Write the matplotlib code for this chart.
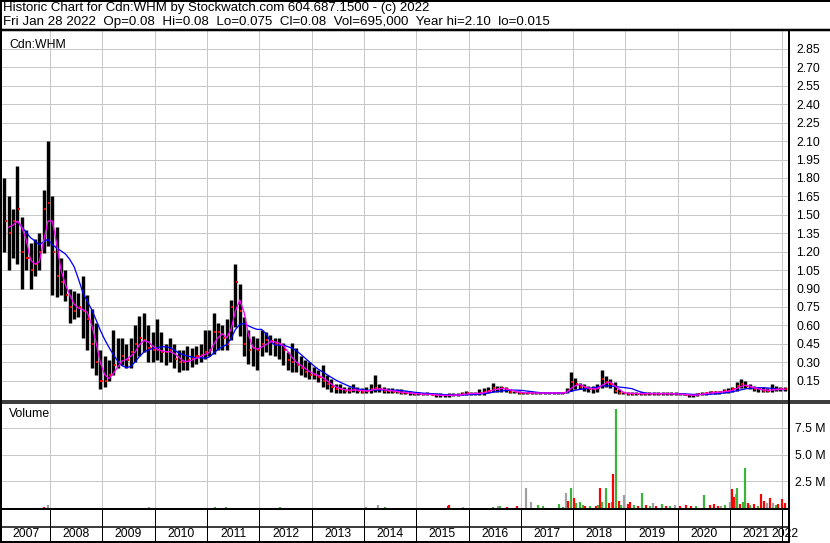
import numpy as np
import pandas as pd
import matplotlib
matplotlib.use("Agg")
import matplotlib.pyplot as plt
from matplotlib.lines import Line2D

plt.rcParams['font.family'] = ['Liberation Sans', 'DejaVu Sans']

W, H, DPI = 830, 543, 100

# ---------------- data (monthly bars, Feb 2007 .. Jan 2022) ----------------
first_month = 2007 + 1 / 12.0   # Feb 2007

month_high = [
    1.80, 1.65, 1.55, 1.90, 1.48, 1.38, 1.27, 1.30, 1.35, 1.70, 2.10,
    1.65, 1.40, 1.15, 1.05, 0.90, 0.88, 0.86, 1.00, 0.85, 0.73, 0.62, 0.40,
    0.35, 0.32, 0.56, 0.50, 0.50, 0.45, 0.50, 0.60, 0.68, 0.70, 0.60, 0.55,
    0.65, 0.55, 0.45, 0.50, 0.45, 0.40, 0.40, 0.43, 0.42, 0.43, 0.45, 0.56,
    0.56, 0.70, 0.62, 0.60, 0.65, 0.81, 1.10, 0.94, 0.67, 0.56, 0.51, 0.50,
    0.56, 0.55, 0.52, 0.50, 0.50, 0.46, 0.38, 0.46, 0.42, 0.35, 0.32, 0.30,
    0.26, 0.24, 0.28, 0.20, 0.16, 0.12, 0.12, 0.10, 0.10, 0.12, 0.10, 0.09,
    0.10, 0.12, 0.20, 0.12, 0.10, 0.09, 0.09, 0.08, 0.08, 0.07, 0.07, 0.06,
    0.06, 0.05, 0.06, 0.05, 0.05, 0.05, 0.045, 0.05, 0.05, 0.05, 0.06, 0.07,
    0.06, 0.06, 0.08, 0.09, 0.10, 0.13, 0.11, 0.11, 0.10, 0.08, 0.07, 0.07,
    0.06, 0.06, 0.06, 0.06, 0.06, 0.06, 0.06, 0.06, 0.06, 0.06, 0.09, 0.22,
    0.17, 0.13, 0.12, 0.11, 0.11, 0.12, 0.24, 0.19, 0.16, 0.14, 0.08, 0.06,
    0.06, 0.06, 0.06, 0.06, 0.06, 0.06, 0.06, 0.06, 0.06, 0.06, 0.06, 0.055,
    0.05, 0.05, 0.04, 0.04, 0.05, 0.06, 0.06, 0.07, 0.07, 0.07, 0.08, 0.09,
    0.10, 0.14, 0.16, 0.15, 0.12, 0.11, 0.10, 0.10, 0.09, 0.12, 0.11, 0.10,
    0.095,
]
month_low = [
    1.20, 1.05, 1.15, 1.10, 0.90, 1.05, 0.90, 1.00, 1.05, 1.19, 1.25,
    0.85, 0.83, 0.85, 0.80, 0.62, 0.65, 0.67, 0.50, 0.40, 0.25, 0.20, 0.08,
    0.10, 0.15, 0.20, 0.25, 0.28, 0.25, 0.25, 0.30, 0.35, 0.38, 0.30, 0.30,
    0.32, 0.30, 0.28, 0.30, 0.25, 0.22, 0.24, 0.24, 0.26, 0.29, 0.30, 0.33,
    0.35, 0.37, 0.40, 0.40, 0.40, 0.48, 0.59, 0.51, 0.35, 0.29, 0.27, 0.24,
    0.35, 0.38, 0.36, 0.35, 0.33, 0.28, 0.24, 0.22, 0.22, 0.20, 0.18, 0.16,
    0.16, 0.14, 0.10, 0.08, 0.06, 0.05, 0.05, 0.05, 0.05, 0.06, 0.05, 0.05,
    0.05, 0.05, 0.06, 0.06, 0.05, 0.05, 0.05, 0.05, 0.04, 0.04, 0.03, 0.03,
    0.03, 0.03, 0.03, 0.03, 0.02, 0.02, 0.02, 0.02, 0.025, 0.025, 0.03, 0.03,
    0.03, 0.03, 0.035, 0.035, 0.05, 0.06, 0.06, 0.06, 0.06, 0.05, 0.05, 0.04,
    0.04, 0.04, 0.04, 0.04, 0.04, 0.04, 0.04, 0.04, 0.04, 0.04, 0.05, 0.07,
    0.08, 0.08, 0.07, 0.06, 0.05, 0.06, 0.09, 0.10, 0.09, 0.05, 0.04, 0.04,
    0.035, 0.035, 0.035, 0.035, 0.035, 0.035, 0.035, 0.035, 0.035, 0.035, 0.035, 0.03,
    0.03, 0.03, 0.015, 0.02, 0.025, 0.03, 0.035, 0.04, 0.04, 0.045, 0.05, 0.05,
    0.06, 0.07, 0.09, 0.09, 0.08, 0.07, 0.06, 0.06, 0.06, 0.06, 0.07, 0.07,
    0.07,
]
month_close = [
    1.45, 1.35, 1.45, 1.55, 1.20, 1.15, 1.05, 1.10, 1.20, 1.55, 1.60,
    1.20, 1.00, 0.95, 0.85, 0.75, 0.72, 0.75, 0.72, 0.65, 0.45, 0.30, 0.15,
    0.15, 0.20, 0.28, 0.30, 0.35, 0.32, 0.38, 0.45, 0.50, 0.48, 0.42, 0.40,
    0.40, 0.38, 0.38, 0.40, 0.33, 0.30, 0.30, 0.32, 0.33, 0.35, 0.36, 0.38,
    0.40, 0.55, 0.55, 0.50, 0.45, 0.75, 0.95, 0.72, 0.45, 0.40, 0.42, 0.40,
    0.45, 0.48, 0.47, 0.45, 0.45, 0.40, 0.32, 0.30, 0.28, 0.25, 0.22, 0.20,
    0.20, 0.18, 0.15, 0.12, 0.10, 0.08, 0.08, 0.07, 0.07, 0.08, 0.07, 0.06,
    0.07, 0.08, 0.09, 0.08, 0.07, 0.07, 0.06, 0.06, 0.05, 0.05, 0.05, 0.04,
    0.04, 0.04, 0.04, 0.035, 0.03, 0.03, 0.03, 0.03, 0.035, 0.035, 0.04, 0.05,
    0.045, 0.045, 0.05, 0.06, 0.07, 0.09, 0.08, 0.09, 0.08, 0.06, 0.06, 0.05,
    0.05, 0.05, 0.05, 0.05, 0.05, 0.05, 0.05, 0.05, 0.05, 0.05, 0.07, 0.14,
    0.12, 0.10, 0.09, 0.08, 0.08, 0.09, 0.16, 0.14, 0.12, 0.07, 0.05, 0.05,
    0.045, 0.045, 0.045, 0.045, 0.045, 0.045, 0.045, 0.045, 0.045, 0.045, 0.045, 0.04,
    0.04, 0.035, 0.03, 0.03, 0.04, 0.045, 0.05, 0.055, 0.055, 0.06, 0.065, 0.07,
    0.08, 0.11, 0.12, 0.11, 0.09, 0.08, 0.08, 0.07, 0.07, 0.08, 0.08, 0.08,
    0.08,
]

# weekly volume bars (decimal year, millions of shares, g=up r=down n=unchanged)
vol_dates = [2007.89, 2007.95, 2009.89, 2011.15, 2011.36, 2012.39, 2014.03, 2014.26,
             2014.41, 2015.60, 2015.63, 2015.89, 2016.46, 2016.56, 2016.61, 2016.74,
             2016.92, 2017.10, 2017.20, 2017.32, 2017.42, 2017.72, 2017.80, 2017.86,
             2017.90, 2017.95, 2018.01, 2018.06, 2018.13, 2018.18, 2018.23, 2018.33,
             2018.43, 2018.48, 2018.51, 2018.56, 2018.63, 2018.68, 2018.74, 2018.77,
             2018.81, 2018.87, 2018.91, 2018.97, 2019.04, 2019.09, 2019.17, 2019.24,
             2019.32, 2019.39, 2019.47, 2019.52, 2019.59, 2019.69, 2019.78, 2019.85,
             2019.95, 2020.05, 2020.15, 2020.25, 2020.35, 2020.50, 2020.61, 2020.69,
             2020.76, 2020.83, 2020.91, 2020.99, 2021.03, 2021.07, 2021.11, 2021.14,
             2021.19, 2021.24, 2021.29, 2021.34, 2021.39, 2021.46, 2021.54, 2021.60,
             2021.65, 2021.70, 2021.77, 2021.82, 2021.87, 2021.92, 2022.00, 2022.05]
vol_values = [0.10, 0.30, 0.12, 0.10, 0.08, 0.10, 0.10, 0.28,
              0.08, 0.15, 0.30, 0.08, 0.10, 0.15, 0.20, 0.10,
              0.15, 1.84, 0.60, 0.30, 0.15, 0.40, 0.10, 1.40,
              0.70, 1.84, 0.90, 0.50, 0.60, 0.30, 0.20, 0.15,
              0.20, 0.30, 1.90, 0.60, 1.90, 0.50, 0.60, 3.20,
              9.27, 0.70, 0.30, 1.20, 0.40, 0.60, 0.30, 0.20,
              1.40, 0.30, 0.20, 0.50, 0.20, 0.40, 0.15, 0.20,
              0.30, 0.20, 0.30, 0.15, 0.20, 1.25, 0.30, 0.40,
              0.20, 0.20, 0.30, 0.60, 1.80, 1.00, 1.30, 1.90,
              0.40, 0.60, 3.77, 0.50, 0.30, 0.40, 0.20, 1.30,
              0.70, 0.50, 0.90, 0.50, 0.30, 0.40, 0.80, 0.50]
vol_colors = ['r', 'n', 'n', 'g', 'g', 'g', 'n', 'n',
              'g', 'r', 'r', 'n', 'g', 'n', 'g', 'r',
              'r', 'n', 'n', 'g', 'g', 'g', 'g', 'n',
              'r', 'g', 'r', 'g', 'g', 'g', 'r', 'g',
              'r', 'g', 'r', 'g', 'g', 'r', 'g', 'r',
              'g', 'r', 'g', 'n', 'r', 'r', 'g', 'r',
              'g', 'r', 'g', 'n', 'r', 'g', 'r', 'g',
              'n', 'r', 'r', 'r', 'g', 'g', 'r', 'r',
              'r', 'n', 'g', 'n', 'r', 'r', 'n', 'g',
              'r', 'g', 'g', 'r', 'g', 'r', 'g', 'r',
              'r', 'n', 'r', 'n', 'g', 'r', 'r', 'r']

price_ticks = [0.15, 0.30, 0.45, 0.60, 0.75, 0.90, 1.05, 1.20, 1.35, 1.50,
               1.65, 1.80, 1.95, 2.10, 2.25, 2.40, 2.55, 2.70, 2.85]
vol_ticks = [2.5, 5.0, 7.5]
vol_tick_labels = ['2.5 M', '5.0 M', '7.5 M']
years = list(range(2007, 2023))

title_line1 = "Historic Chart for Cdn:WHM by Stockwatch.com 604.687.1500 - (c) 2022"
title_line2 = ("Fri Jan 28 2022  Op=0.08  Hi=0.08  Lo=0.075  Cl=0.08  "
               "Vol=695,000  Year hi=2.10  lo=0.015")

# ---------------- layout helpers ----------------
X0, X1 = 2007.0605, 2022.107
GRID = '#c8c8c8'
FS = 8.8
PT = 72.0 / DPI


def fx(x):
    return x / W


def fy(y):
    return 1 - y / H


fig = plt.figure(figsize=(W / DPI, H / DPI), dpi=DPI, facecolor='white')


def fline(x0, y0, x1, y1, lw=1.0, color='black'):
    fig.add_artist(Line2D([fx(x0), fx(x1)], [fy(y0), fy(y1)], transform=fig.transFigure,
                          color=color, lw=lw * PT, solid_capstyle='butt'))


axp = fig.add_axes([fx(1), fy(400), fx(788) - fx(1), fy(31) - fy(400)])
axv = fig.add_axes([fx(1), fy(509), fx(788) - fx(1), fy(402.5) - fy(509)])
axb = fig.add_axes([fx(1), fy(542), fx(788) - fx(1), fy(509) - fy(542)])

for ax in (axp, axv, axb):
    ax.set_xlim(X0, X1)
    for s in ax.spines.values():
        s.set_visible(False)
    ax.set_facecolor('white')

dates = first_month + (np.arange(len(month_close)) + 0.5) / 12.0
hi = np.array(month_high)
lo = np.array(month_low)
cl = np.array(month_close)

# ---- price panel ----
axp.set_ylim(-0.007, 2.996)
axp.set_xticks(years[1:])
axp.set_yticks(price_ticks)
axp.set_yticklabels(['%.2f' % t for t in price_ticks])
axp.yaxis.tick_right()
axp.tick_params(axis='y', length=0, pad=6, labelsize=FS)
axp.tick_params(axis='x', length=0, labelbottom=False)
axp.grid(True, color=GRID, lw=1.0 * PT)
axp.set_axisbelow(True)

axp.vlines(dates, lo, hi, color='black', lw=3.4 * PT, zorder=3)
axp.hlines(cl, dates + 0.004, dates + 0.045, color='#ff0000', lw=2.0 * PT, zorder=4)

ma_fast = pd.Series(cl).rolling(3, min_periods=2).mean().to_numpy()
ma_slow = pd.Series(cl).rolling(8, min_periods=4).mean().to_numpy()
axp.plot(dates, ma_slow, color='#0000ff', lw=1.3 * PT, zorder=5)
axp.plot(dates, ma_fast, color='#ff00ff', lw=1.3 * PT, zorder=6)

axp.text(8 / 787, 1 - 14 / 369, 'Cdn:WHM', transform=axp.transAxes, fontsize=FS,
         va='center', ha='left')

# ---- volume panel ----
axv.set_ylim(-0.09, 9.88)
axv.set_xticks(years[1:])
axv.set_yticks(vol_ticks)
axv.set_yticklabels(vol_tick_labels)
axv.yaxis.tick_right()
axv.tick_params(axis='y', length=0, pad=5, labelsize=FS)
axv.tick_params(axis='x', length=0, labelbottom=False)
axv.grid(True, color=GRID, lw=1.0 * PT)
axv.set_axisbelow(True)
cmap = {'g': '#3cb43c', 'r': '#ff0000', 'n': '#a0a0a0'}
axv.vlines(vol_dates, 0, vol_values, colors=[cmap[c] for c in vol_colors],
           lw=2.2 * PT, zorder=3)
axv.text(8 / 787, 1 - 11 / 106, 'Volume', transform=axv.transAxes, fontsize=FS,
         va='center', ha='left')

# ---- bottom band with year labels ----
axb.set_ylim(0, 1)
axb.set_xticks([])
axb.set_yticks([])
axb.vlines(years[1:], 0, 1, color='black', lw=1.0 * PT)
for yv in years:
    a = max(yv, X0)
    b = min(yv + 1, X1)
    axb.text((a + b) / 2, 0.24, str(yv), ha='center', va='center', fontsize=FS,
             clip_on=False)

# ---- frame lines ----
fline(0, 0.5, W, 0.5, lw=2)
fline(0.5, 0, 0.5, H, lw=2)
fline(0, 30, W, 30, lw=2.5)
fline(788.5, 30, 788.5, H, lw=2)
fline(0, 400.5, W, 400.5, lw=1.5)
fline(0, 402.8, W, 402.8, lw=1.5)
fline(0, 509.3, 788, 509.3, lw=2)
fline(0, 526.5, 788, 526.5, lw=1.5)
fline(0, 542, 788, 542, lw=2)

fig.text(fx(3), fy(8.5), title_line1, fontsize=9.5, va='center', ha='left')
fig.text(fx(3), fy(22.5), title_line2, fontsize=9.6, va='center', ha='left')

fig.savefig('out.png', dpi=DPI, facecolor='white')
